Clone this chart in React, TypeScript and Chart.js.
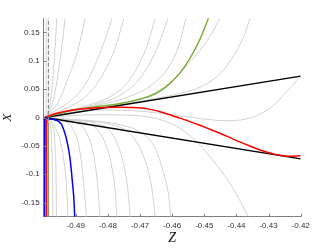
import React, { useEffect, useRef } from 'react';
import { Chart, registerables } from 'chart.js';

Chart.register(...registerables);

type P = [number, number];

// axis ticks
const xTicks = [-0.49, -0.48, -0.47, -0.46, -0.45, -0.44, -0.43, -0.42];
const xTickLabels = ['-0.49', '-0.48', '-0.47', '-0.46', '-0.45', '-0.44', '-0.43', '-0.42'];
const yTicks = [-0.15, -0.1, -0.05, 0, 0.05, 0.1, 0.15];
const yTickLabels = ['-0.15', '-0.1', '-0.05', '0', '0.05', '0.1', '0.15'];

// light gray trajectories, upper family
const grayVertical: P[] = [[-0.4992, 0.0], [-0.4992, 0.175]];
const grayUp1: P[] = [[-0.4994, 0.0014], [-0.4988, 0.0076], [-0.498, 0.0217], [-0.4972, 0.0628], [-0.49645, 0.1218], [-0.4959, 0.175]];
const grayUp2: P[] = [[-0.4993, 0.0018], [-0.498, 0.0129], [-0.497, 0.0305], [-0.4959, 0.0628], [-0.4944, 0.1218], [-0.4933, 0.175]];
const grayUp3: P[] = [[-0.4989, 0.0032], [-0.4974, 0.0129], [-0.4954, 0.0275], [-0.4928, 0.0628], [-0.4892, 0.1218], [-0.4871, 0.175]];
const grayUp4: P[] = [[-0.4993, 0.0014], [-0.498, 0.0067], [-0.4949, 0.0164], [-0.4908, 0.0335], [-0.4866, 0.0628], [-0.4819, 0.1218], [-0.4787, 0.175]];
const grayUp5: P[] = [[-0.4993, 0.0014], [-0.4974, 0.0058], [-0.4933, 0.0155], [-0.4877, 0.0335], [-0.483, 0.0628], [-0.4778, 0.1218], [-0.475, 0.175]];
const grayUp6: P[] = [[-0.4993, 0.0012], [-0.4974, 0.0049], [-0.4918, 0.0129], [-0.4856, 0.0226], [-0.4793, 0.0367], [-0.4737, 0.0628], [-0.4681, 0.1218], [-0.4653, 0.175]];
const grayUp7: P[] = [[-0.4993, 0.0011], [-0.4965, 0.0058], [-0.4902, 0.0138], [-0.4825, 0.0252], [-0.4756, 0.0411], [-0.47, 0.0693], [-0.4647, 0.1218], [-0.4613, 0.175]];
const grayUp8: P[] = [[-0.4993, 0.0009], [-0.498, 0.0041], [-0.4918, 0.012], [-0.4825, 0.0226], [-0.4747, 0.0341], [-0.4669, 0.0552], [-0.4613, 0.087], [-0.4582, 0.1223], [-0.4557, 0.175]];
const grayUp9: P[] = [[-0.4993, 0.0009], [-0.4918, 0.0111], [-0.4856, 0.0164], [-0.4762, 0.0235], [-0.47, 0.0314], [-0.4638, 0.0446], [-0.4576, 0.0776], [-0.4545, 0.0976], [-0.4513, 0.1188], [-0.4482, 0.1435], [-0.4451, 0.175]];
const grayUp10: P[] = [[-0.4993, 0.0007], [-0.4918, 0.0108], [-0.4825, 0.0176], [-0.4762, 0.0226], [-0.47, 0.0282], [-0.4638, 0.0349], [-0.4576, 0.0424], [-0.4513, 0.0535], [-0.4467, 0.0693], [-0.4426, 0.0941], [-0.4395, 0.1223], [-0.4373, 0.1488], [-0.4358, 0.175]];
const grayDip: P[] = [[-0.4993, 0.0004], [-0.4918, 0.0088], [-0.4825, 0.0132], [-0.4731, 0.0124], [-0.4638, 0.0076], [-0.4576, 0.0032], [-0.4513, -0.0018], [-0.4467, -0.0048], [-0.442, -0.0056], [-0.4373, -0.003], [-0.4327, 0.0058], [-0.428, 0.0235], [-0.424, 0.0482], [-0.42, 0.0729]];

// light gray trajectories, lower family
const grayLow1: P[] = [[-0.4993, -0.0012], [-0.4983, -0.0065], [-0.4977, -0.0224], [-0.4974, -0.0577], [-0.4972, -0.1107], [-0.4971, -0.175]];
const grayLow2: P[] = [[-0.4993, -0.0012], [-0.498, -0.0048], [-0.4971, -0.0154], [-0.49645, -0.0489], [-0.4961, -0.1107], [-0.496, -0.175]];
const grayLow3: P[] = [[-0.4993, -0.0021], [-0.498, -0.0065], [-0.49645, -0.0171], [-0.4949, -0.04], [-0.4937, -0.0753], [-0.4929, -0.1195], [-0.4924, -0.175]];
const grayLow4: P[] = [[-0.4993, -0.0012], [-0.49645, -0.003], [-0.4933, -0.0065], [-0.4912, -0.0171], [-0.4893, -0.0436], [-0.4881, -0.0842], [-0.4872, -0.1371], [-0.4867, -0.175]];
const grayLow5: P[] = [[-0.4993, -0.0012], [-0.4949, -0.0039], [-0.4902, -0.0083], [-0.4871, -0.0224], [-0.4849, -0.0542], [-0.4837, -0.093], [-0.4828, -0.146], [-0.4825, -0.175]];
const grayLow6: P[] = [[-0.4993, -0.0012], [-0.4933, -0.0039], [-0.4871, -0.0092], [-0.4831, -0.0224], [-0.4806, -0.0489], [-0.4787, -0.0895], [-0.4776, -0.1371], [-0.4772, -0.175]];
const grayLow7: P[] = [[-0.4993, -0.0012], [-0.4918, -0.0039], [-0.484, -0.0101], [-0.4793, -0.0242], [-0.4765, -0.0542], [-0.4747, -0.093], [-0.4736, -0.1371], [-0.4731, -0.175]];
const grayLow8: P[] = [[-0.4993, -0.0012], [-0.4887, -0.0048], [-0.4793, -0.0118], [-0.4737, -0.0259], [-0.47, -0.0542], [-0.4675, -0.093], [-0.466, -0.1371], [-0.4653, -0.175]];
const grayLow9: P[] = [[-0.4993, -0.0012], [-0.4871, -0.0048], [-0.4762, -0.0127], [-0.4694, -0.0277], [-0.4653, -0.0542], [-0.4629, -0.093], [-0.4611, -0.1371], [-0.4604, -0.175]];
const grayLow10: P[] = [[-0.4993, -0.0004], [-0.4918, 0.0032], [-0.4825, 0.0049], [-0.4731, 0.0041], [-0.4669, 0.0005], [-0.4622, -0.0065], [-0.4576, -0.0189], [-0.4523, -0.0431], [-0.4461, -0.0842], [-0.441, -0.1253], [-0.4363, -0.175]];

// dashed gray vertical
const dashedLine: P[] = [[-0.4985, -0.175], [-0.4985, 0.175]];

// black straight lines
const blackUpper: P[] = [[-0.4996, 0.0], [-0.42, 0.073]];
const blackLower: P[] = [[-0.4996, 0.0], [-0.42, -0.073]];

// red
const redMain: P[] = [[-0.4996, 0.0], [-0.49645, 0.0067], [-0.49139, 0.0129], [-0.48557, 0.0164], [-0.481, 0.0177], [-0.47624, 0.0182], [-0.47273, 0.0177], [-0.46753, 0.0152], [-0.4638, 0.0102], [-0.46029, 0.0041], [-0.45758, -0.0011], [-0.45447, -0.0072], [-0.45136, -0.0138], [-0.44825, -0.0208], [-0.44514, -0.0279], [-0.44203, -0.0355], [-0.43892, -0.0431], [-0.43581, -0.0503], [-0.4327, -0.0572], [-0.42959, -0.0626], [-0.42648, -0.0667], [-0.42337, -0.0685], [-0.42, -0.0676]];
const redDown: P[] = [[-0.4996, 0.0], [-0.4992, -0.006], [-0.4991, -0.03], [-0.4991, -0.175]];

// green
const greenMain: P[] = [[-0.4996, 0.0], [-0.49552, 0.0067], [-0.49139, 0.0124], [-0.48712, 0.0164], [-0.48246, 0.0199], [-0.47624, 0.0247], [-0.47002, 0.0325], [-0.46691, 0.0381], [-0.4638, 0.0469], [-0.46069, 0.0602], [-0.45758, 0.0787], [-0.45447, 0.1043], [-0.45136, 0.1378], [-0.4487, 0.175]];
const greenDown: P[] = [[-0.4996, 0.0], [-0.4989, -0.004], [-0.4985, -0.012], [-0.4985, -0.175]];

// blue
const blueMain: P[] = [[-0.49956, -0.0004], [-0.49801, -0.0026], [-0.49645, -0.0044], [-0.49552, -0.0062], [-0.49459, -0.0109], [-0.49397, -0.018], [-0.49319, -0.0312], [-0.49241, -0.0506], [-0.49179, -0.0718], [-0.49132, -0.0965], [-0.49085, -0.1248], [-0.49055, -0.146], [-0.49033, -0.175]];
const blueDown: P[] = [[-0.4996, 0.0], [-0.4997, -0.01], [-0.4997, -0.175]];

const grayCurves: P[][] = [
  grayUp1, grayUp2, grayUp3, grayUp4, grayUp5, grayUp6, grayUp7, grayUp8, grayUp9, grayUp10, grayDip,
  grayLow1, grayLow2, grayLow3, grayLow4, grayLow5, grayLow6, grayLow7, grayLow8, grayLow9, grayLow10,
];

const toXY = (pts: P[]) => pts.map(([x, y]) => ({ x, y }));

const AXIS_COLOR = '#808080';
const TEXT_COLOR = '#333333';

const inwardTicks = {
  id: 'inwardTicks',
  afterDraw(chart: any) {
    const { ctx, chartArea, scales } = chart;
    ctx.save();
    ctx.strokeStyle = AXIS_COLOR;
    ctx.lineWidth = 1;
    ctx.beginPath();
    xTicks.forEach((v) => {
      const px = Math.round(scales.x.getPixelForValue(v)) + 0.5;
      ctx.moveTo(px, chartArea.bottom);
      ctx.lineTo(px, chartArea.bottom - 3);
    });
    yTicks.forEach((v) => {
      const py = Math.round(scales.y.getPixelForValue(v)) + 0.5;
      ctx.moveTo(chartArea.left, py);
      ctx.lineTo(chartArea.left + 3, py);
    });
    ctx.stroke();
    ctx.restore();
  },
};

export default function App() {
  const ref = useRef<HTMLCanvasElement | null>(null);

  useEffect(() => {
    if (!ref.current) return;
    const curve = (pts: P[], color: string, width: number, order: number) => ({
      data: toXY(pts),
      showLine: true,
      borderColor: color,
      backgroundColor: color,
      borderWidth: width,
      pointRadius: 0,
      cubicInterpolationMode: 'monotone',
      fill: false,
      order,
      clip: 0,
    });
    const straight = (pts: P[], color: string, width: number, order: number, dash: number[] = []) => ({
      data: toXY(pts),
      showLine: true,
      borderColor: color,
      backgroundColor: color,
      borderWidth: width,
      borderDash: dash,
      pointRadius: 0,
      tension: 0,
      fill: false,
      order,
      clip: 0,
    });

    const datasets: any[] = [
      straight(dashedLine, '#8a8a8a', 1.2, 0, [4, 2]),
      curve(blueMain, '#0000ff', 1.5, 1),
      straight(blueDown, '#0000ff', 1.5, 1),
      curve(redMain, '#ff0000', 1.5, 2),
      straight(redDown, '#ff0000', 1.5, 2),
      curve(greenMain, '#77ac30', 1.4, 3),
      straight(greenDown, '#77ac30', 1.4, 3),
      straight(blackUpper, '#000000', 1.5, 4),
      straight(blackLower, '#000000', 1.5, 4),
      straight(grayVertical, '#d2d2d2', 1, 10),
      ...grayCurves.map((c) => curve(c, '#d2d2d2', 1, 10)),
    ];

    const chart = new Chart(ref.current, {
      type: 'scatter',
      data: { datasets },
      options: {
        animation: false,
        responsive: false,
        devicePixelRatio: 1,
        layout: { padding: { top: 18.3, right: 31.3, left: 0, bottom: 0 } },
        plugins: { legend: { display: false }, tooltip: { enabled: false } },
        scales: {
          x: {
            type: 'linear',
            min: -0.5,
            max: -0.42,
            afterBuildTicks: (scale: any) => {
              scale.ticks = xTicks.map((v) => ({ value: v }));
            },
            afterFit: (scale: any) => {
              scale.height = 32.3;
            },
            grid: { display: false, drawTicks: false },
            border: { display: true, color: AXIS_COLOR, width: 1 },
            ticks: {
              padding: 4,
              color: TEXT_COLOR,
              font: { family: "'Liberation Sans', Arial, sans-serif", size: 8 },
              maxRotation: 0,
              autoSkip: false,
              callback: (value: any) => {
                const i = xTicks.findIndex((t) => Math.abs(t - Number(value)) < 1e-9);
                return i >= 0 ? xTickLabels[i] : '';
              },
            },
            title: {
              display: true,
              text: 'Z',
              color: '#111',
              font: { family: "'Liberation Serif', 'DejaVu Serif', serif", size: 14, style: 'italic' },
              padding: { top: 0, bottom: 2 },
            },
          },
          y: {
            type: 'linear',
            min: -0.175,
            max: 0.175,
            afterBuildTicks: (scale: any) => {
              scale.ticks = yTicks.map((v) => ({ value: v }));
            },
            afterFit: (scale: any) => {
              scale.width = 43.6;
            },
            grid: { display: false, drawTicks: false },
            border: { display: true, color: AXIS_COLOR, width: 1 },
            ticks: {
              padding: 4,
              color: TEXT_COLOR,
              font: { family: "'Liberation Sans', Arial, sans-serif", size: 8 },
              autoSkip: false,
              callback: (value: any) => {
                const i = yTicks.findIndex((t) => Math.abs(t - Number(value)) < 1e-9);
                return i >= 0 ? yTickLabels[i] : '';
              },
            },
            title: {
              display: true,
              text: 'X',
              color: '#111',
              font: { family: "'Liberation Serif', 'DejaVu Serif', serif", size: 13, style: 'italic' },
              padding: { top: 0, bottom: 0 },
            },
          },
        },
      },
      plugins: [inwardTicks],
    });

    return () => chart.destroy();
  }, []);

  return (
    <div style={{ position: 'fixed', left: 0, top: 0, width: 332, height: 249, background: '#fff' }}>
      <canvas ref={ref} width={332} height={249} style={{ width: 332, height: 249 }} />
    </div>
  );
}
